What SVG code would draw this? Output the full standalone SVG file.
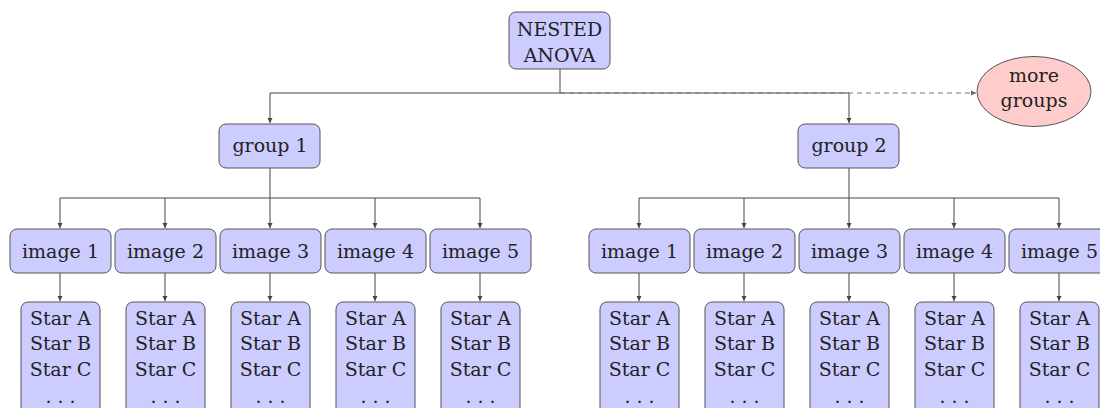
<svg xmlns="http://www.w3.org/2000/svg" width="1100" height="408" viewBox="0 0 1100 408">
<style>
.n{fill:#ccccff;stroke:#555;stroke-width:1}
.e{fill:#ffcccc;stroke:#555;stroke-width:1}
text{font-family:"DejaVu Serif","Liberation Serif",serif;font-size:19px;fill:#222;text-anchor:middle}
.c{fill:none;stroke:#444;stroke-width:1}
.d{fill:none;stroke:#777;stroke-width:1;stroke-dasharray:5,4}
</style>
<defs>
<marker id="a" markerWidth="6" markerHeight="6" refX="5" refY="3" orient="auto" markerUnits="userSpaceOnUse"><path d="M0,0.5 L5,3 L0,5.5 Z" fill="#444"/></marker>
<marker id="ad" markerWidth="6" markerHeight="6" refX="5" refY="3" orient="auto" markerUnits="userSpaceOnUse"><path d="M0,0.5 L5,3 L0,5.5 Z" fill="#666"/></marker>
</defs>
<rect width="1100" height="408" fill="#fff"/>
<g id="connectors">
<path class="c" d="M560,69 V93"/>
<path class="c" d="M270,93 H849"/>
<path class="c" d="M270,93 V123" marker-end="url(#a)"/>
<path class="c" d="M849,93 V123" marker-end="url(#a)"/>
<path class="d" d="M560,93 H976" marker-end="url(#ad)"/>
<path class="c" d="M270,168 V198 M60,198 H480"/>
<path class="c" d="M60,198 V228" marker-end="url(#a)"/>
<path class="c" d="M165,198 V228" marker-end="url(#a)"/>
<path class="c" d="M270,198 V228" marker-end="url(#a)"/>
<path class="c" d="M375,198 V228" marker-end="url(#a)"/>
<path class="c" d="M480,198 V228" marker-end="url(#a)"/>
<path class="c" d="M849,168 V198 M639,198 H1059"/>
<path class="c" d="M639,198 V228" marker-end="url(#a)"/>
<path class="c" d="M744,198 V228" marker-end="url(#a)"/>
<path class="c" d="M849,198 V228" marker-end="url(#a)"/>
<path class="c" d="M954,198 V228" marker-end="url(#a)"/>
<path class="c" d="M1059,198 V228" marker-end="url(#a)"/>
<path class="c" d="M60,273 V301" marker-end="url(#a)"/>
<path class="c" d="M165,273 V301" marker-end="url(#a)"/>
<path class="c" d="M270,273 V301" marker-end="url(#a)"/>
<path class="c" d="M375,273 V301" marker-end="url(#a)"/>
<path class="c" d="M480,273 V301" marker-end="url(#a)"/>
<path class="c" d="M639,273 V301" marker-end="url(#a)"/>
<path class="c" d="M744,273 V301" marker-end="url(#a)"/>
<path class="c" d="M849,273 V301" marker-end="url(#a)"/>
<path class="c" d="M954,273 V301" marker-end="url(#a)"/>
<path class="c" d="M1059,273 V301" marker-end="url(#a)"/>
</g>
<g id="root"><rect class="n" x="509" y="12" width="101" height="57" rx="7"/><text x="559.5" y="36">NESTED</text><text x="559.5" y="62">ANOVA</text></g>
<g id="more"><ellipse class="e" cx="1034" cy="91.5" rx="57" ry="35"/><text x="1034" y="82">more</text><text x="1034" y="107">groups</text></g>
<g id="group1"><rect class="n" x="219" y="124" width="101" height="44" rx="7"/><text x="270" y="152">group 1</text></g>
<g id="group2"><rect class="n" x="798" y="124" width="101" height="44" rx="7"/><text x="849" y="152">group 2</text></g>
<g id="g1i1"><rect class="n" x="10" y="229" width="101" height="44" rx="7"/><text x="60.5" y="258">image 1</text></g>
<g id="g1i2"><rect class="n" x="115" y="229" width="101" height="44" rx="7"/><text x="165.5" y="258">image 2</text></g>
<g id="g1i3"><rect class="n" x="220" y="229" width="101" height="44" rx="7"/><text x="270.5" y="258">image 3</text></g>
<g id="g1i4"><rect class="n" x="325" y="229" width="101" height="44" rx="7"/><text x="375.5" y="258">image 4</text></g>
<g id="g1i5"><rect class="n" x="430" y="229" width="101" height="44" rx="7"/><text x="480.5" y="258">image 5</text></g>
<g id="g2i1"><rect class="n" x="589" y="229" width="101" height="44" rx="7"/><text x="639.5" y="258">image 1</text></g>
<g id="g2i2"><rect class="n" x="694" y="229" width="101" height="44" rx="7"/><text x="744.5" y="258">image 2</text></g>
<g id="g2i3"><rect class="n" x="799" y="229" width="101" height="44" rx="7"/><text x="849.5" y="258">image 3</text></g>
<g id="g2i4"><rect class="n" x="904" y="229" width="101" height="44" rx="7"/><text x="954.5" y="258">image 4</text></g>
<g id="g2i5"><rect class="n" x="1009" y="229" width="101" height="44" rx="7"/><text x="1059.5" y="258">image 5</text></g>
<g id="g1s1"><rect class="n" x="21" y="302" width="79" height="120" rx="7"/><text x="60.5" y="325">Star A</text><text x="60.5" y="350">Star B</text><text x="60.5" y="376">Star C</text><text x="60.5" y="403">. . .</text></g>
<g id="g1s2"><rect class="n" x="126" y="302" width="79" height="120" rx="7"/><text x="165.5" y="325">Star A</text><text x="165.5" y="350">Star B</text><text x="165.5" y="376">Star C</text><text x="165.5" y="403">. . .</text></g>
<g id="g1s3"><rect class="n" x="231" y="302" width="79" height="120" rx="7"/><text x="270.5" y="325">Star A</text><text x="270.5" y="350">Star B</text><text x="270.5" y="376">Star C</text><text x="270.5" y="403">. . .</text></g>
<g id="g1s4"><rect class="n" x="336" y="302" width="79" height="120" rx="7"/><text x="375.5" y="325">Star A</text><text x="375.5" y="350">Star B</text><text x="375.5" y="376">Star C</text><text x="375.5" y="403">. . .</text></g>
<g id="g1s5"><rect class="n" x="441" y="302" width="79" height="120" rx="7"/><text x="480.5" y="325">Star A</text><text x="480.5" y="350">Star B</text><text x="480.5" y="376">Star C</text><text x="480.5" y="403">. . .</text></g>
<g id="g2s1"><rect class="n" x="600" y="302" width="79" height="120" rx="7"/><text x="639.5" y="325">Star A</text><text x="639.5" y="350">Star B</text><text x="639.5" y="376">Star C</text><text x="639.5" y="403">. . .</text></g>
<g id="g2s2"><rect class="n" x="705" y="302" width="79" height="120" rx="7"/><text x="744.5" y="325">Star A</text><text x="744.5" y="350">Star B</text><text x="744.5" y="376">Star C</text><text x="744.5" y="403">. . .</text></g>
<g id="g2s3"><rect class="n" x="810" y="302" width="79" height="120" rx="7"/><text x="849.5" y="325">Star A</text><text x="849.5" y="350">Star B</text><text x="849.5" y="376">Star C</text><text x="849.5" y="403">. . .</text></g>
<g id="g2s4"><rect class="n" x="915" y="302" width="79" height="120" rx="7"/><text x="954.5" y="325">Star A</text><text x="954.5" y="350">Star B</text><text x="954.5" y="376">Star C</text><text x="954.5" y="403">. . .</text></g>
<g id="g2s5"><rect class="n" x="1020" y="302" width="79" height="120" rx="7"/><text x="1059.5" y="325">Star A</text><text x="1059.5" y="350">Star B</text><text x="1059.5" y="376">Star C</text><text x="1059.5" y="403">. . .</text></g>
</svg>
